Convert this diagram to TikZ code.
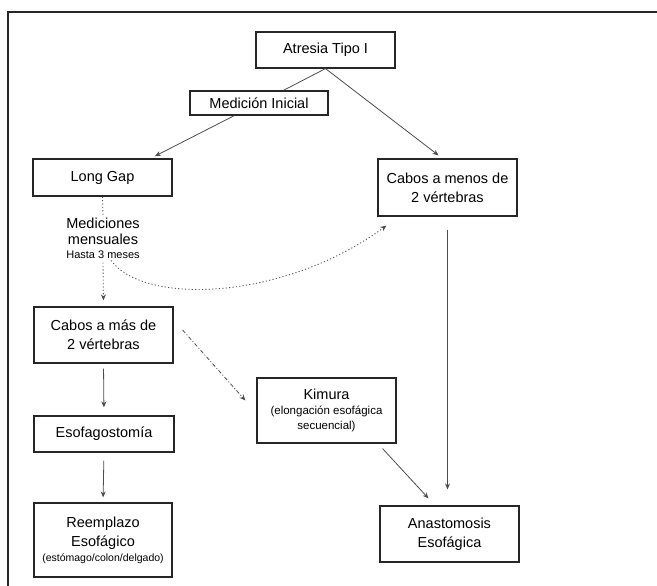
\documentclass[tikz,border=0pt]{standalone}
\usepackage{fontspec}
\setmainfont{Liberation Sans}
\usetikzlibrary{arrows.meta,calc}
\begin{document}
\begin{tikzpicture}[x=1pt,y=-1pt,
  box/.style={draw=black!85,line width=1.2pt,align=center,inner sep=2pt,
    font=\fontsize{14.5}{19}\selectfont},
  conn/.style={draw=black!70,line width=0.8pt},
  tip/.style={-{Stealth[length=6pt,width=5pt]}},
  dotline/.style={conn,dash pattern=on 1.2pt off 2.2pt},
  dashdot/.style={conn,dash pattern=on 4pt off 2pt on 1pt off 2pt},
  small/.style={font=\fontsize{11}{14}\selectfont}]
\useasboundingbox (0,0) rectangle (657,586);
% frame
\draw[line width=1.5pt,black!85] (657,12) -- (8,12) -- (8,586);
% nodes
\node[box,minimum width=139pt,minimum height=36pt] (atresia) at (325.5,50) {Atresia Tipo I};
\node[box,minimum width=138pt,minimum height=24pt,fill=white] (medicion) at (259,103) {Medición Inicial};
\node[box,minimum width=139pt,minimum height=37pt] (longgap) at (102.5,177.5) {Long Gap};
\node[box,minimum width=139pt,minimum height=57pt] (menos) at (447.5,187.5) {Cabos a menos de\\2 vértebras};
\node[align=center,inner sep=1pt,font=\fontsize{14.5}{16}\selectfont] (mediciones) at (103,238) {Mediciones\\mensuales\\[-2pt]{\fontsize{11}{12}\selectfont Hasta 3 meses}};
\node[box,minimum width=139pt,minimum height=56pt] (mas) at (103.5,335) {Cabos a más de\\2 vértebras};
\node[box,minimum width=140pt,minimum height=36pt] (esofago) at (104,434) {Esofagostomía};
\node[box,minimum width=138pt,minimum height=74pt] (reemplazo) at (103,540) {Reemplazo\\Esofágico\\[-4pt]{\fontsize{10.5}{13}\selectfont(estómago/colon/delgado)}};
\node[box,minimum width=139pt,minimum height=65pt] (kimura) at (326.5,410.5) {Kimura\\[-4pt]{\fontsize{11.5}{14}\selectfont(elongación esofágica}\\[-4pt]{\fontsize{11.5}{14}\selectfont secuencial)}};
\node[box,minimum width=139pt,minimum height=56pt] (anastomosis) at (449.5,534) {Anastomosis\\Esofágica};
% connectors
\draw[conn] (atresia.south) -- (medicion);
\draw[conn,tip,shorten >=5pt] (medicion) -- ($(longgap.north)+(48,0)$);
\draw[conn,tip,shorten >=5pt] (atresia.south) -- ($(menos.north)+(-5,0)$);
\draw[dotline] (longgap.south) -- (mediciones.north);
\draw[dotline,tip,shorten <=3pt,shorten >=6pt] (mediciones.south) -- (mas.north);
\coordinate (cstart) at ($(mediciones.south)+(8,1)$);
\coordinate (cend) at ($(menos.south west)+(9,9)$);
\draw[dotline,tip] (cstart) .. controls (145,306) and (285,300) .. (cend);
\draw[conn,tip,shorten <=13pt,shorten >=16pt] (menos.south) -- (anastomosis.north -| menos.south);
\draw[dashdot,tip] ($(mas.east)+(9,-5)$) -- ($(kimura.west)+(-11,-10)$);
\draw[conn,tip] ($(kimura.south east)+(-14,5)$) -- ($(anastomosis.north)+(-21,-7)$);
\draw[conn,tip,shorten <=5pt,shorten >=8pt] (mas.south) -- (esofago.north);
\draw[conn,tip,shorten <=8pt,shorten >=5pt] (esofago.south) -- (reemplazo.north);
\end{tikzpicture}
\end{document}
